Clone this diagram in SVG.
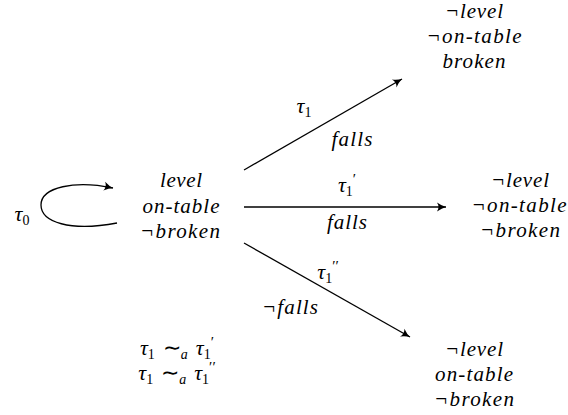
<svg xmlns="http://www.w3.org/2000/svg" width="568" height="415" viewBox="0 0 568 415" font-family="Liberation Serif" font-style="italic" font-size="21" text-anchor="middle">
<style>
  .edge { fill: none; stroke: #000; stroke-width: 1.3; marker-end: url(#arr); }
</style>
<defs>
  <marker id="arr" markerUnits="userSpaceOnUse" markerWidth="14" markerHeight="12" viewBox="-9 -6 11 12" refX="1" refY="0" orient="auto">
    <path d="M-8,-4.5 Q-3,-1 1,0 Q-3,1 -8,4.5 Q-5,0 -8,-4.5 Z" fill="#000"/>
  </marker>
</defs>
<g id="connectors">
  <path class="edge" d="M117,223 C70,232 41,222 41,205 C41,187 75,180 113,188"/>
  <line class="edge" x1="244" y1="170" x2="402" y2="79"/>
  <line class="edge" x1="244" y1="207" x2="446" y2="207"/>
  <line class="edge" x1="244" y1="243" x2="410" y2="337"/>
</g>
<g id="labels">
  <text font-size="22" x="22" y="221">τ<tspan font-size="14" font-style="normal" dy="4">0</tspan></text>
  <text font-size="22" x="304" y="113">τ<tspan font-size="14" font-style="normal" dy="4">1</tspan></text>
  <text x="352" y="146" textLength="41" lengthAdjust="spacing">falls</text>
  <text font-size="22" x="347" y="192">τ<tspan font-size="14" font-style="normal" dy="4">1</tspan><tspan font-style="normal" font-size="15" dx="0" dy="-12">′</tspan></text>
  <text x="347" y="229" textLength="40" lengthAdjust="spacing">falls</text>
  <text font-size="22" x="328" y="279">τ<tspan font-size="14" font-style="normal" dy="4">1</tspan><tspan font-style="normal" font-size="15" dx="0" dy="-12">′′</tspan></text>
  <text x="290" y="314" textLength="56" lengthAdjust="spacing">¬falls</text>
</g>
<g id="node-init">
  <text x="181" y="187" textLength="42" lengthAdjust="spacing">level</text>
  <text x="181" y="213" textLength="77" lengthAdjust="spacing">on-table</text>
  <text x="180" y="238" textLength="80" lengthAdjust="spacing">¬broken</text>
</g>
<g id="node-top">
  <text x="474" y="18" textLength="58" lengthAdjust="spacing">¬level</text>
  <text x="474" y="43" textLength="95" lengthAdjust="spacing">¬on-table</text>
  <text x="474" y="68" textLength="63" lengthAdjust="spacing">broken</text>
</g>
<g id="node-mid">
  <text x="520" y="187" textLength="58" lengthAdjust="spacing">¬level</text>
  <text x="519" y="212" textLength="95" lengthAdjust="spacing">¬on-table</text>
  <text x="520" y="237" textLength="80" lengthAdjust="spacing">¬broken</text>
</g>
<g id="node-bottom">
  <text x="474" y="356" textLength="58" lengthAdjust="spacing">¬level</text>
  <text x="474" y="381" textLength="78" lengthAdjust="spacing">on-table</text>
  <text x="474" y="406" textLength="80" lengthAdjust="spacing">¬broken</text>
</g>
<g id="equivalence" font-size="22">
  <text x="177" y="355">τ<tspan font-size="14" font-style="normal" dy="4">1</tspan><tspan font-style="normal" font-size="22" dx="8" dy="-4">∼</tspan><tspan font-size="14" dy="4">a</tspan><tspan dx="8" dy="-4">τ</tspan><tspan font-size="14" font-style="normal" dy="4">1</tspan><tspan font-style="normal" font-size="15" dx="0" dy="-12">′</tspan></text>
  <text x="177" y="380">τ<tspan font-size="14" font-style="normal" dy="4">1</tspan><tspan font-style="normal" font-size="22" dx="8" dy="-4">∼</tspan><tspan font-size="14" dy="4">a</tspan><tspan dx="8" dy="-4">τ</tspan><tspan font-size="14" font-style="normal" dy="4">1</tspan><tspan font-style="normal" font-size="15" dx="0" dy="-12">′′</tspan></text>
</g>
</svg>
